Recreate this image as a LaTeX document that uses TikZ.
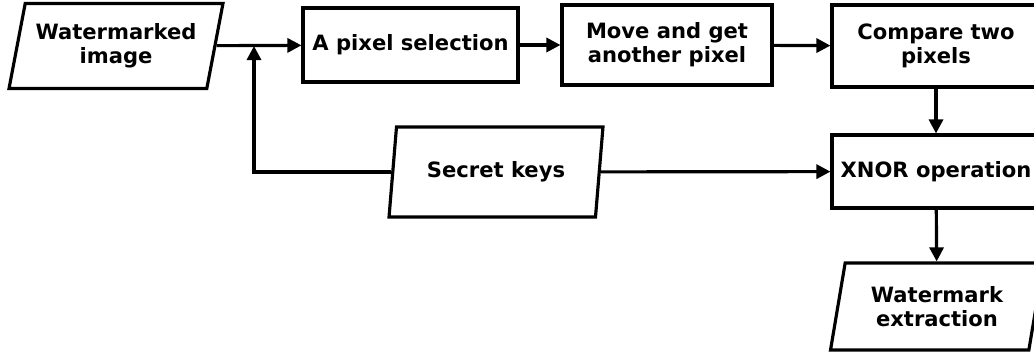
\documentclass[tikz,border=0pt]{standalone}
\usepackage{fontspec}
\setmainfont{DejaVu Sans}
\usetikzlibrary{shapes.geometric,arrows.meta}

\begin{document}
\begin{tikzpicture}
[x=0.02cm,y=-0.02cm,line width=1.8pt,>={Triangle[length=8pt,width=8pt]},
every node/.style={font=\bfseries\fontsize{12}{13.6}\selectfont,align=center,draw,inner sep=0pt},
procbox/.style={rectangle},
iobox/.style={trapezium,trapezium left angle=70,trapezium right angle=110,trapezium stretches body}]
\useasboundingbox (0,0) rectangle (1034,358);
\node[iobox,minimum width=4.28cm,minimum height=1.7cm] (wimg) at (116,46) {Watermarked\\image};
\node[procbox,minimum width=4.3cm,minimum height=1.48cm] (psel) at (410.5,45) {A pixel selection};
\node[procbox,minimum width=4.2cm,minimum height=1.6cm] (move) at (667,45) {Move and get\\another pixel};
\node[procbox,minimum width=4.16cm,minimum height=1.64cm] (comp) at (936,46) {Compare two\\pixels};
\node[procbox,minimum width=4.16cm,minimum height=1.46cm] (xnor) at (936,171.5) {XNOR operation};
\node[iobox,minimum width=4.28cm,minimum height=1.8cm] (skeys) at (496,172) {Secret keys};
\node[iobox,minimum width=4.26cm,minimum height=1.74cm] (wext) at (937,306.5) {Watermark\\extraction};
\coordinate (jn) at (254,46);
\foreach \from/\to in {wimg/psel,psel/move,move/comp,comp/xnor,skeys/xnor,xnor/wext}
\draw[->] (\from) -- (\to);
\draw[->] (skeys.west) -| (jn);
\end{tikzpicture}
\end{document}
